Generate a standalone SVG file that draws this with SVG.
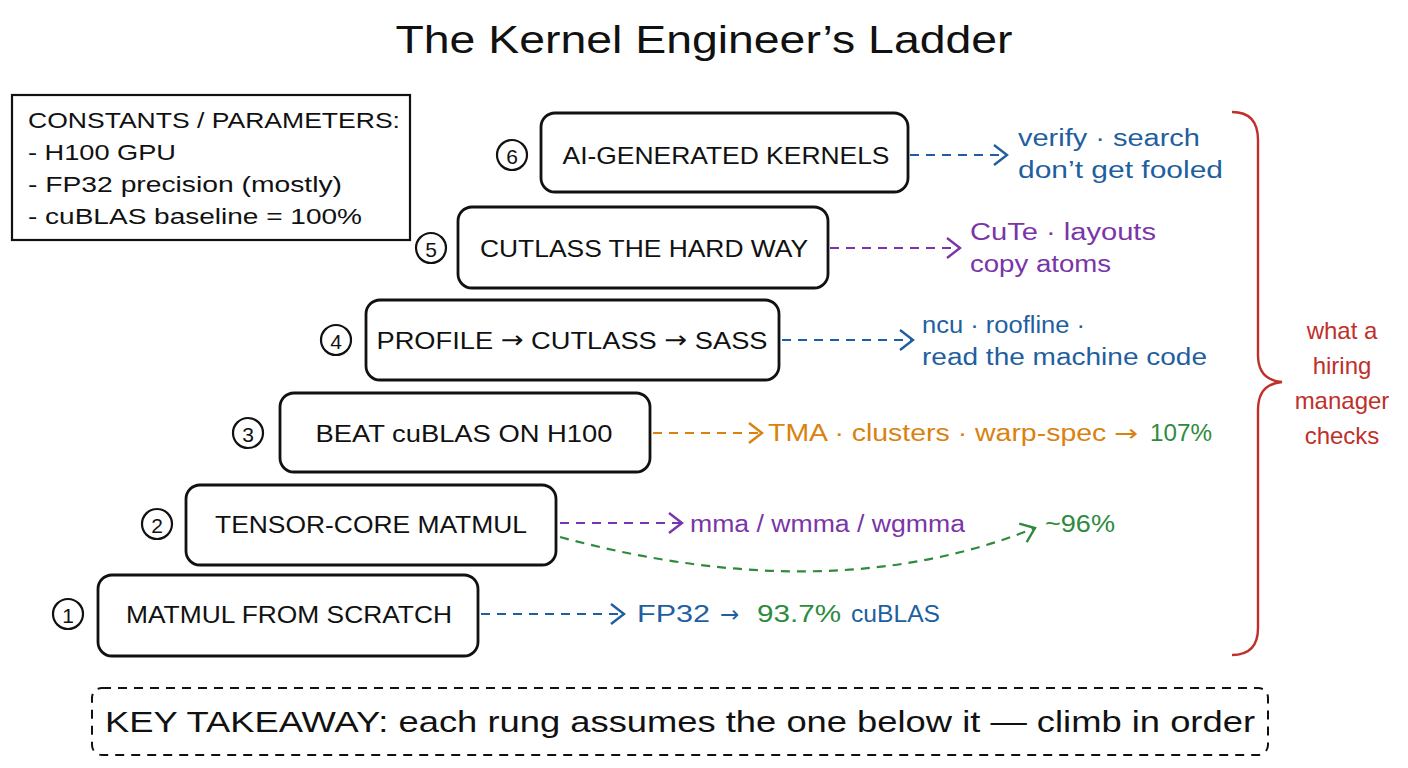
<svg xmlns="http://www.w3.org/2000/svg" width="1408" height="768" viewBox="0 0 1408 768">
<style>
text{font-family:"Liberation Sans","DejaVu Sans",sans-serif;dominant-baseline:central}
.ar{font-family:"DejaVu Sans",sans-serif}
.box{fill:#fff;stroke:#111;stroke-width:2.8}
.num{fill:#fff;stroke:#111;stroke-width:2.2}
.numt{font-size:21px;text-anchor:middle;fill:#111}
.lbl{font-size:24px;text-anchor:middle;fill:#111}
.c{fill:none;stroke-width:2.2;stroke-dasharray:9 7}
.blue{fill:#1f5f9f}.purple{fill:#7a35a8}.orange{fill:#d9820f}.green{fill:#2e8b3e}.red{fill:#c0302b}
.side{font-size:23px}
</style>
<defs>
<marker id="ab" markerWidth="18" markerHeight="24" refX="15" refY="12" orient="auto" markerUnits="userSpaceOnUse"><path d="M2,2 L15,12 L2,22" fill="none" stroke="#1f5f9f" stroke-width="2.4"/></marker>
<marker id="ap" markerWidth="18" markerHeight="24" refX="15" refY="12" orient="auto" markerUnits="userSpaceOnUse"><path d="M2,2 L15,12 L2,22" fill="none" stroke="#7a35a8" stroke-width="2.4"/></marker>
<marker id="ao" markerWidth="18" markerHeight="24" refX="15" refY="12" orient="auto" markerUnits="userSpaceOnUse"><path d="M2,2 L15,12 L2,22" fill="none" stroke="#d9820f" stroke-width="2.4"/></marker>
<marker id="ag" markerWidth="18" markerHeight="24" refX="15" refY="12" orient="auto" markerUnits="userSpaceOnUse"><path d="M2,2 L15,12 L2,22" fill="none" stroke="#2e8b3e" stroke-width="2.4"/></marker>
</defs>
<rect width="1408" height="768" fill="#fff"/>
<text x="704" y="40" style="font-size:38px;text-anchor:middle" fill="#111" textLength="617" lengthAdjust="spacingAndGlyphs">The Kernel Engineer’s Ladder</text>

<g id="constants">
<rect x="12" y="95" width="398" height="145" fill="#fff" stroke="#111" stroke-width="2.2"/>
<text x="28" y="120" style="font-size:22px" fill="#111" textLength="372" lengthAdjust="spacingAndGlyphs">CONSTANTS / PARAMETERS:</text>
<text x="28" y="152" style="font-size:22px" fill="#111" textLength="148" lengthAdjust="spacingAndGlyphs">- H100 GPU</text>
<text x="28" y="184" style="font-size:22px" fill="#111" textLength="314" lengthAdjust="spacingAndGlyphs">- FP32 precision (mostly)</text>
<text x="28" y="216" style="font-size:22px" fill="#111" textLength="334" lengthAdjust="spacingAndGlyphs">- cuBLAS baseline = 100%</text>
</g>

<g id="connectors">
<path class="c" d="M910,155 L1007,155" stroke="#1f5f9f" marker-end="url(#ab)"/>
<path class="c" d="M830,248 L960,248" stroke="#7a35a8" marker-end="url(#ap)"/>
<path class="c" d="M782,340 L913,340" stroke="#1f5f9f" marker-end="url(#ab)"/>
<path class="c" d="M653,433 L762,433" stroke="#d9820f" marker-end="url(#ao)"/>
<path class="c" d="M560,523 L682,523" stroke="#7a35a8" marker-end="url(#ap)"/>
<path class="c" d="M560,537 Q830,610 1035,528" stroke="#2e8b3e" marker-end="url(#ag)"/>
<path class="c" d="M481,614 L624,614" stroke="#1f5f9f" marker-end="url(#ab)"/>
</g>

<g id="rung6">
<circle class="num" cx="512" cy="155" r="15"/><text class="numt" x="512" y="156">6</text>
<rect class="box" x="541" y="113" width="367" height="79" rx="14"/>
<text class="lbl" x="726" y="155" textLength="327" lengthAdjust="spacingAndGlyphs">AI-GENERATED KERNELS</text>
</g>
<g id="rung5">
<circle class="num" cx="431" cy="248" r="15"/><text class="numt" x="431" y="249">5</text>
<rect class="box" x="458" y="207" width="370" height="81" rx="14"/>
<text class="lbl" x="644" y="248" textLength="328" lengthAdjust="spacingAndGlyphs">CUTLASS THE HARD WAY</text>
</g>
<g id="rung4">
<circle class="num" cx="336" cy="340" r="15"/><text class="numt" x="336" y="341">4</text>
<rect class="box" x="366" y="300" width="413" height="80" rx="14"/>
<text class="lbl" x="572" y="340" textLength="391" lengthAdjust="spacingAndGlyphs">PROFILE <tspan class="ar">→</tspan> CUTLASS <tspan class="ar">→</tspan> SASS</text>
</g>
<g id="rung3">
<circle class="num" cx="248" cy="433" r="15"/><text class="numt" x="248" y="434">3</text>
<rect class="box" x="280" y="393" width="370" height="79" rx="14"/>
<text class="lbl" x="464" y="433" textLength="297" lengthAdjust="spacingAndGlyphs">BEAT cuBLAS ON H100</text>
</g>
<g id="rung2">
<circle class="num" cx="157" cy="524" r="15"/><text class="numt" x="157" y="525">2</text>
<rect class="box" x="186" y="485" width="370" height="80" rx="14"/>
<text class="lbl" x="371" y="524" textLength="312" lengthAdjust="spacingAndGlyphs">TENSOR-CORE MATMUL</text>
</g>
<g id="rung1">
<circle class="num" cx="68" cy="614" r="15"/><text class="numt" x="68" y="615">1</text>
<rect class="box" x="98" y="575" width="380" height="81" rx="14"/>
<text class="lbl" x="289" y="614" textLength="326" lengthAdjust="spacingAndGlyphs">MATMUL FROM SCRATCH</text>
</g>

<g id="notes">
<text class="side blue" x="1018" y="138" textLength="182" lengthAdjust="spacingAndGlyphs">verify · search</text>
<text class="side blue" x="1018" y="170" textLength="205" lengthAdjust="spacingAndGlyphs">don’t get fooled</text>
<text class="side purple" x="970" y="232" textLength="186" lengthAdjust="spacingAndGlyphs">CuTe · layouts</text>
<text class="side purple" x="970" y="264" textLength="141" lengthAdjust="spacingAndGlyphs">copy atoms</text>
<text class="side blue" x="922" y="325" textLength="163" lengthAdjust="spacingAndGlyphs">ncu · roofline ·</text>
<text class="side blue" x="922" y="357" textLength="285" lengthAdjust="spacingAndGlyphs">read the machine code</text>
<text class="side orange" x="768" y="433" textLength="370" lengthAdjust="spacingAndGlyphs">TMA · clusters · warp-spec <tspan class="ar">→</tspan></text>
<text class="side green" x="1150" y="433" textLength="62" lengthAdjust="spacingAndGlyphs">107%</text>
<text class="side purple" x="690" y="524" textLength="275" lengthAdjust="spacingAndGlyphs">mma / wmma / wgmma</text>
<text class="side green" x="1045" y="524" textLength="70" lengthAdjust="spacingAndGlyphs">~96%</text>
<text class="side blue" x="637" y="614" textLength="73" lengthAdjust="spacingAndGlyphs">FP32</text>
<text class="side blue ar" x="720" y="614">→</text>
<text class="side green" x="757" y="614" textLength="84" lengthAdjust="spacingAndGlyphs">93.7%</text>
<text class="side blue" x="851" y="614" textLength="89" lengthAdjust="spacingAndGlyphs">cuBLAS</text>
</g>

<g id="brace">
<path d="M1232,112 Q1258,112 1258,140 L1258,355 Q1258,380 1282,382 Q1258,384 1258,410 L1258,628 Q1258,655 1232,655" fill="none" stroke="#c0302b" stroke-width="2.4"/>
<text class="red" x="1342" y="330" style="text-anchor:middle;font-size:24px">what a</text>
<text class="red" x="1342" y="365" style="text-anchor:middle;font-size:24px">hiring</text>
<text class="red" x="1342" y="400" style="text-anchor:middle;font-size:24px">manager</text>
<text class="red" x="1342" y="435" style="text-anchor:middle;font-size:24px">checks</text>
</g>

<g id="takeaway">
<rect x="92" y="688" width="1176" height="67" rx="10" fill="none" stroke="#111" stroke-width="2" stroke-dasharray="9 7"/>
<text x="680" y="721" style="font-size:30px;text-anchor:middle" fill="#111" textLength="1150" lengthAdjust="spacingAndGlyphs">KEY TAKEAWAY: each rung assumes the one below it — climb in order</text>
</g>
</svg>
